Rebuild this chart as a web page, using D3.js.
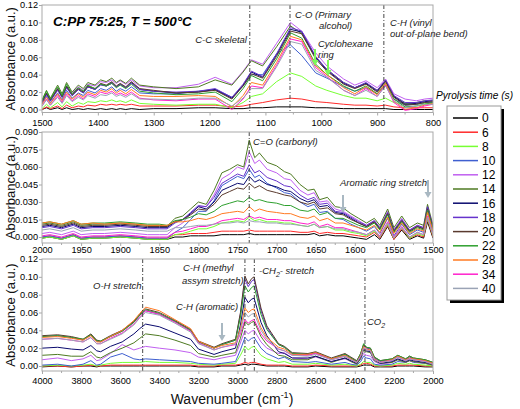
<!DOCTYPE html>
<html><head><meta charset="utf-8">
<script src="https://cdn.jsdelivr.net/npm/d3@7"></script>
<style>body{margin:0;background:#fff} svg{display:block} text{font-family:"Liberation Sans",Arial,sans-serif}</style>
</head><body><svg id="c" width="520" height="409"></svg>
<script>
// ---------- DATA ----------
const seriesNames = ["0","6","8","10","12","14","16","18","20","22","28","34","40"];
const seriesColors = ["#000000","#ff2a2a","#77ff33","#3f5fd0","#c05ff0","#4e7a22","#0a0a6e","#6633cc","#5a3a2e","#2ea02e","#ff7a22","#ff22cc","#9aa3b5"];

// Panel 1: 1500-800 cm-1
const p1Wn = [1500,1492,1485,1472,1464,1456,1446,1435,1426,1418,1405,1395,1385,1375,1367,1360,1350,1340,
  1325,1300,1260,1220,1190,1160,1140, 1125,1105,1080,1055,1035,1010,990, 960,940,920,900,885,870,850,830,815,800];
const p1Abs = [
 [.000,.002,.000,.002,.000,.002,.000,.001,.000,.001,.000,.001,.000,.001,.000,.001,.000,.001, .000,.001,.001,.002,.002,.001,.001, .002,.002,.003,.003,.003,.002,.002, .001,.001,.001,.001,.001,.000,.000,.000,.000,.000],
 [.000,.003,.001,.004,.001,.005,.002,.004,.003,.005,.004,.006,.005,.006,.005,.006,.005,.006, .004,.004,.004,.005,.005,.003,.004, .006,.008,.011,.013,.012,.009,.008, .006,.005,.005,.004,.005,.003,.002,.002,.002,.002],
 [.001,.006,.002,.008,.003,.009,.004,.008,.006,.009,.008,.010,.009,.011,.009,.010,.008,.011, .007,.006,.005,.006,.006,.002,.008, .015,.018,.032,.042,.038,.027,.022, .016,.013,.013,.010,.013,.008,.006,.006,.007,.007],
 [.007,.015,.008,.019,.011,.022,.013,.019,.016,.022,.019,.024,.022,.026,.021,.024,.021,.026, .019,.018,.018,.021,.023,.014,.027, .040,.040,.064,.074,.062,.042,.036, .026,.021,.025,.018,.028,.012,.005,.006,.008,.008],
 [.010,.018,.012,.024,.016,.027,.019,.026,.022,.029,.027,.032,.031,.034,.030,.033,.029,.034, .027,.025,.025,.029,.037,.029,.044, .057,.052,.076,.100,.090,.065,.050, .035,.028,.033,.025,.035,.018,.012,.010,.012,.013],
 [.011,.022,.013,.028,.018,.031,.020,.028,.024,.031,.028,.034,.032,.036,.031,.034,.030,.036, .028,.026,.024,.026,.034,.028,.043, .056,.050,.072,.096,.087,.060,.046, .031,.025,.030,.022,.033,.015,.007,.008,.010,.010],
 [.008,.018,.010,.023,.014,.026,.016,.023,.019,.026,.023,.029,.027,.031,.026,.029,.025,.031, .023,.021,.019,.020,.023,.013,.028, .043,.037,.063,.092,.089,.060,.045, .030,.025,.030,.021,.033,.015,.006,.007,.009,.010],
 [.008,.017,.010,.022,.014,.025,.016,.023,.019,.026,.023,.028,.027,.030,.026,.029,.025,.030, .023,.021,.020,.021,.024,.014,.029, .044,.038,.064,.094,.090,.061,.046, .031,.025,.031,.022,.034,.016,.008,.008,.010,.011],
 [.009,.019,.011,.024,.015,.027,.017,.024,.020,.027,.024,.030,.028,.032,.027,.030,.026,.032, .024,.022,.019,.020,.022,.012,.027, .041,.036,.061,.090,.087,.058,.044, .029,.024,.029,.020,.032,.014,.005,.006,.008,.009],
 [.010,.021,.012,.026,.016,.029,.018,.025,.021,.028,.024,.029,.027,.030,.025,.028,.024,.029, .021,.019,.017,.018,.020,.009,.024, .039,.033,.058,.088,.082,.052,.040, .027,.021,.027,.018,.030,.012,.003,.004,.006,.008],
 [.006,.014,.007,.018,.010,.020,.012,.018,.014,.020,.017,.022,.020,.024,.019,.022,.018,.023, .016,.015,.015,.016,.015,.003,.016, .031,.028,.054,.084,.080,.050,.040, .025,.018,.026,.017,.030,.010,.000,.002,.005,.007],
 [.004,.012,.005,.016,.008,.018,.010,.016,.012,.018,.015,.020,.018,.021,.017,.019,.016,.020, .013,.011,.010,.012,.012,.000,.012, .027,.025,.051,.081,.078,.048,.038, .022,.016,.024,.015,.028,.008,-.001,.001,.004,.006],
 [.004,.011,.005,.014,.007,.016,.009,.014,.011,.016,.013,.017,.016,.019,.015,.017,.014,.018, .012,.012,.011,.013,.013,.004,.013, .024,.024,.049,.078,.075,.045,.037, .022,.016,.022,.015,.027,.010,.002,.004,.006,.006]
];
const p1XTicks = [1500,1400,1300,1200,1100,1000,900,800];
const p1YTicks = [0,0.02,0.04,0.06,0.08,0.10,0.12];
const p1Marks = [1128,1056,888];

// Panel 2: 2000-1500 cm-1
const p2Wn = [2000,1990,1975,1960,1950,1935,1920,1900,1880,1865,1850, 1840,1830,1820,1810,1800,1790,1780,1770,1760,
  1750,1742,1735,1728,1722,1712,1700, 1690,1682,1670,1660,1652,1645,1635,1625,1615,1605,1595,
  1585,1575,1568,1558,1550,1540,1530,1520,1512,1507,1500];
const p2Abs = [
 [-.001,.000,-.002,.001,-.002,-.001,-.001,.000,-.001,-.002,-.002, -.002,.000,.000,.001,.001,.001,.001,.002,.002, .002,.002,.003,.002,.002,.002,.002, .002,.002,.002,.002,.003,.001,.002,.001,.001,.000,-.001, -.002,.002,-.002,.009,-.002,.006,-.002,.001,-.001,.013,-.001],
 [.000,.001,-.001,.002,-.001,.000,.000,.001,.000,-.001,-.001, -.001,.002,.002,.003,.003,.003,.004,.005,.005, .005,.005,.006,.005,.005,.005,.005, .005,.005,.004,.004,.005,.003,.004,.003,.003,.002,.001, .000,.004,-.001,.010,-.002,.007,-.001,.002,.000,.015,.000],
 [-.001,.000,-.002,.001,-.002,-.001,-.001,.000,-.001,-.002,-.002, -.002,.002,.003,.005,.007,.007,.009,.012,.013, .014,.013,.017,.014,.015,.013,.013, .012,.012,.010,.009,.011,.008,.009,.006,.006,.004,.003, .001,.005,.000,.011,-.001,.008,-.001,.003,.001,.016,.001],
 [.000,.001,-.001,.002,-.001,.000,.000,.001,.000,-.001,-.001, -.001,.004,.008,.015,.022,.022,.031,.044,.048, .052,.050,.058,.051,.053,.046,.042, .038,.037,.030,.026,.028,.021,.022,.016,.015,.011,.008, .005,.009,.003,.016,.001,.011,.002,.006,.004,.022,.004],
 [.003,.004,.002,.005,.002,.003,.003,.004,.003,.002,.002, .002,.008,.012,.020,.026,.026,.036,.050,.054, .060,.058,.073,.063,.066,.058,.055, .050,.049,.040,.036,.038,.030,.031,.024,.022,.018,.014, .010,.014,.008,.022,.006,.016,.006,.010,.008,.026,.008],
 [.011,.012,.010,.013,.010,.011,.011,.012,.011,.010,.010, .009,.016,.018,.024,.030,.028,.040,.055,.058, .062,.060,.083,.068,.072,.064,.061, .056,.054,.045,.040,.041,.032,.034,.026,.025,.020,.016, .012,.016,.010,.024,.008,.018,.008,.012,.010,.028,.010],
 [.009,.010,.008,.011,.008,.009,.009,.010,.009,.008,.008, .008,.013,.015,.020,.026,.024,.030,.040,.043, .046,.045,.052,.047,.049,.045,.043, .040,.039,.033,.030,.032,.026,.027,.021,.020,.016,.012, .009,.013,.007,.020,.005,.014,.005,.009,.007,.025,.007],
 [.008,.009,.007,.010,.007,.008,.008,.009,.008,.007,.007, .007,.012,.015,.021,.027,.026,.034,.046,.050, .054,.052,.062,.055,.057,.051,.048, .044,.043,.036,.032,.034,.028,.029,.022,.021,.017,.013, .010,.014,.008,.021,.006,.015,.006,.010,.008,.026,.008],
 [.010,.011,.009,.012,.009,.010,.010,.011,.010,.009,.009, .009,.013,.015,.019,.024,.023,.028,.036,.039, .042,.041,.046,.042,.044,.040,.038, .036,.035,.030,.028,.030,.024,.025,.020,.019,.015,.012, .009,.013,.007,.020,.005,.014,.005,.009,.007,.024,.007],
 [.012,.013,.011,.014,.011,.012,.012,.013,.012,.011,.011, .010,.014,.015,.017,.020,.019,.022,.027,.029, .031,.030,.034,.031,.032,.030,.029, .027,.027,.023,.022,.024,.019,.021,.016,.016,.013,.010, .008,.012,.006,.019,.004,.013,.004,.008,.006,.023,.006],
 [.012,.013,.011,.014,.011,.012,.011,.012,.011,.010,.010, .010,.013,.013,.014,.016,.015,.017,.020,.021, .022,.021,.026,.022,.024,.022,.021, .020,.020,.017,.016,.018,.014,.016,.012,.012,.010,.008, .006,.010,.004,.017,.003,.012,.003,.007,.005,.021,.005],
 [.001,.002,.000,.003,.000,.001,.001,.002,.001,.000,.000, .000,.004,.005,.007,.009,.009,.011,.014,.015, .016,.015,.018,.016,.017,.015,.015, .014,.014,.012,.011,.013,.009,.011,.008,.008,.006,.004, .002,.006,.001,.013,.000,.009,.000,.004,.002,.018,.002],
 [.006,.007,.005,.008,.005,.006,.006,.007,.006,.005,.005, .005,.008,.008,.009,.010,.010,.011,.012,.012, .013,.012,.014,.013,.013,.012,.012, .011,.011,.010,.009,.011,.008,.009,.007,.007,.005,.004, .002,.006,.000,.012,-.001,.008,.000,.004,.002,.017,.002]
];
const p2XTicks = [2000,1950,1900,1850,1800,1750,1700,1650,1600,1550,1500];
const p2YTicks = [0,0.015,0.030,0.045,0.060,0.075,0.090];
const p2Marks = [1735];

// Panel 3: 4000-2000 cm-1
const p3Wn = [4000,3920,3850,3790,3750,3720,3700,3650, 3590,3530,3500,3470,3400,3320,3240,3200,3120,3080,
  3010,2985,2962,2945,2928,2915,2880,2850, 2790,2760,2720,2640,2600,2520,2450,2420,2390,
  2370,2355,2340,2320,2300,2270,2210,2180,2140,2120,2100,2040,2000];
const p3Abs = [
 [-.001,.000,-.001,.000,.000,-.001,.000,.000, .000,.000,.000,.000,.000,.000,.000,-.001,-.001,.000, .000,.001,.002,.001,.002,.002,.001,.000, .000,.000,-.001,-.001,.000,-.001,-.001,-.001,-.001, .000,.001,.001,.001,-.001,-.001,-.001,.000,.000,.000,.000,-.001,-.001],
 [.000,.000,-.001,.000,.001,.000,.000,.001, .001,.001,.001,.001,.001,.001,.001,.000,.000,.001, .001,.002,.004,.003,.004,.004,.002,.001, .001,.001,.000,.000,.001,.000,.000,.000,.000, .001,.003,.003,.002,.000,.000,.000,.001,.001,.001,.001,.000,.000],
 [.000,.001,.000,.001,.002,.000,.001,.003, .004,.004,.004,.005,.004,.004,.003,.002,.001,.002, .003,.012,.022,.018,.021,.022,.012,.008, .004,.005,.002,.002,.003,.001,.002,.001,.000, .002,.005,.004,.004,.001,.000,.001,.003,.002,.003,.002,.001,.000],
 [.001,.002,.000,.002,.006,.001,.002,.010, .014,.008,.007,.008,.007,.006,.005,.003,.002,.003, .005,.018,.032,.028,.031,.032,.020,.014, .008,.010,.005,.004,.005,.002,.004,.002,.001, .005,.011,.009,.008,.002,.001,.002,.005,.004,.006,.004,.003,.001],
 [.007,.009,.006,.008,.012,.006,.007,.014, .024,.018,.020,.022,.020,.018,.015,.010,.007,.009, .012,.026,.040,.036,.039,.040,.027,.020, .014,.015,.009,.008,.010,.005,.008,.005,.003, .008,.014,.012,.011,.005,.002,.004,.007,.004,.006,.005,.003,.001],
 [.012,.013,.011,.011,.016,.010,.009,.015, .020,.026,.031,.036,.034,.029,.023,.014,.010,.012, .015,.031,.050,.046,.049,.050,.033,.024, .012,.011,.007,.007,.011,.004,.009,.005,.002, .008,.018,.016,.015,.006,.003,.004,.007,.004,.006,.005,.003,.001],
 [.020,.021,.019,.018,.023,.017,.016,.022, .027,.036,.042,.047,.044,.037,.030,.019,.013,.016, .020,.046,.077,.071,.075,.076,.049,.034, .016,.014,.009,.009,.011,.005,.009,.006,.003, .010,.020,.017,.016,.007,.003,.005,.008,.005,.007,.006,.004,.002],
 [.033,.034,.032,.029,.035,.028,.027,.033, .039,.049,.057,.062,.058,.050,.040,.027,.020,.024, .029,.058,.097,.089,.095,.097,.062,.043, .024,.021,.014,.013,.015,.008,.013,.009,.005, .013,.023,.020,.019,.009,.005,.007,.011,.007,.010,.008,.006,.003],
 [.034,.035,.033,.030,.036,.029,.028,.034, .040,.050,.058,.064,.060,.051,.041,.028,.021,.025, .030,.060,.101,.092,.098,.100,.065,.045, .025,.022,.015,.014,.016,.009,.014,.010,.006, .014,.024,.021,.020,.010,.006,.008,.012,.008,.011,.009,.007,.004],
 [.033,.034,.032,.030,.035,.028,.028,.033, .039,.049,.057,.063,.059,.050,.040,.027,.020,.024, .029,.055,.090,.083,.088,.090,.058,.041, .024,.021,.014,.013,.015,.008,.013,.009,.005, .014,.025,.021,.020,.010,.006,.008,.012,.008,.011,.009,.007,.004],
 [.032,.033,.031,.029,.034,.027,.027,.033, .040,.051,.059,.066,.062,.052,.042,.028,.020,.023, .026,.042,.065,.060,.063,.064,.043,.032, .021,.019,.013,.013,.015,.008,.012,.008,.004, .012,.022,.019,.018,.008,.004,.007,.011,.007,.009,.008,.006,.003],
 [.030,.031,.029,.027,.032,.025,.025,.031, .037,.047,.055,.062,.058,.049,.039,.026,.018,.021, .024,.036,.052,.048,.051,.052,.036,.028, .019,.017,.012,.012,.014,.007,.011,.007,.004, .011,.020,.018,.017,.007,.004,.006,.010,.006,.008,.007,.005,.002],
 [.030,.031,.029,.027,.032,.025,.025,.030, .036,.046,.054,.060,.057,.048,.038,.025,.018,.021, .025,.039,.060,.055,.058,.059,.040,.030, .019,.017,.012,.011,.013,.007,.011,.007,.004, .011,.020,.018,.017,.007,.004,.006,.010,.006,.008,.007,.005,.002]
];
const p3XTicks = [4000,3800,3600,3400,3200,3000,2800,2600,2400,2200,2000];
const p3YTicks = [0,0.02,0.04,0.06,0.08,0.10,0.12];
const p3Marks = [3485,2962,2914,2348];

// ---------- DRAW ----------
const svg = d3.select("#c");
const L = 42, R = 433;
const axisGray = "#a9a9a9";

const panels = [
  {wn:p1Wn, abs:p1Abs, xd:[1500,800], top:5, zeroY:109.5, bottom:112.5, ymax:0.12, yt:p1YTicks, fmt:d3.format(".2f"), xt:p1XTicks, minorStep:50, marks:p1Marks, labY:5},
  {wn:p2Wn, abs:p2Abs, xd:[2000,1500], top:132, zeroY:237, bottom:243, ymax:0.09, yt:p2YTicks, fmt:d3.format(".3f"), xt:p2XTicks, minorStep:25, marks:p2Marks, labY:2},
  {wn:p3Wn, abs:p3Abs, xd:[4000,2000], top:259, zeroY:366, bottom:371, ymax:0.12, yt:p3YTicks, fmt:d3.format(".2f"), xt:p3XTicks, minorStep:100, marks:p3Marks, labY:4.5}
];

panels.forEach((p, pi) => {
  const x = d3.scaleLinear().domain(p.xd).range([L, R]);
  const y = d3.scaleLinear().domain([0, p.ymax]).range([p.zeroY, p.top]);
  const g = svg.append("g");
  const clipId = "clip" + pi;
  svg.append("clipPath").attr("id", clipId).append("rect")
    .attr("x", L).attr("y", p.top).attr("width", R - L).attr("height", p.bottom - p.top);

  // lines
  const line = d3.line().x((d,i) => x(p.wn[i])).y(d => y(d));
  const lg = g.append("g").attr("clip-path", `url(#${clipId})`);
  p.abs.forEach((vals, si) => {
    lg.append("path").attr("d", line(vals)).attr("fill","none")
      .attr("stroke", seriesColors[si]).attr("stroke-width", 1).attr("stroke-linejoin","round");
  });

  // vertical marker lines
  p.marks.forEach(m => {
    g.append("line").attr("x1", x(m)).attr("x2", x(m)).attr("y1", p.top).attr("y2", p.bottom)
      .attr("stroke","#333").attr("stroke-width",0.9).attr("stroke-dasharray","4,2,1,2");
  });

  // frame
  g.append("rect").attr("x", L).attr("y", p.top).attr("width", R - L).attr("height", p.bottom - p.top)
    .attr("fill","none").attr("stroke", axisGray).attr("stroke-width", 1);

  // x axis
  const xa = g.append("g").attr("transform", `translate(0,${p.bottom})`)
    .call(d3.axisBottom(x).tickValues(p.xt).tickSize(3).tickSizeOuter(0).tickFormat(d3.format("d")));
  xa.select(".domain").remove();
  xa.selectAll("line").attr("stroke", axisGray);
  xa.selectAll("text").attr("font-size", 9.2).attr("fill","#000").attr("dy","0.9em").attr("y", p.labY);
  const minors = d3.range(Math.min(...p.xd), Math.max(...p.xd) + 1, p.minorStep).filter(v => !p.xt.includes(v));
  g.selectAll(null).data(minors).enter().append("line")
    .attr("x1", d => x(d)).attr("x2", d => x(d)).attr("y1", p.bottom).attr("y2", p.bottom + 2)
    .attr("stroke", axisGray);

  // y axis
  const ya = g.append("g").attr("transform", `translate(${L},0)`)
    .call(d3.axisLeft(y).tickValues(p.yt).tickSize(3).tickSizeOuter(0).tickFormat(p.fmt));
  ya.select(".domain").remove();
  ya.selectAll("line").attr("stroke", axisGray);
  ya.selectAll("text").attr("font-size", 9.2).attr("fill","#000").attr("x", -4);

  // y title
  svg.append("text").attr("transform", `translate(15,${(p.top + p.bottom)/2}) rotate(-90)`)
    .attr("text-anchor","middle").attr("font-size", 13).attr("fill","#111").text("Absorbance (a.u.)");
});

// x title
const xt = svg.append("text").attr("x", 232).attr("y", 404).attr("text-anchor","middle").attr("font-size", 14).attr("fill","#111");
xt.append("tspan").text("Wavenumber (cm");
xt.append("tspan").attr("font-size", 9).attr("dy", -6).text("-1");
xt.append("tspan").attr("dy", 6).text(")");

// title
svg.append("text").attr("x", 53).attr("y", 26).attr("font-size", 13.5).attr("font-weight","bold")
  .attr("font-style","italic").attr("fill","#000").text("C:PP 75:25, T = 500\u00B0C");

// annotations
function ann(xp, yp, txt, anchor) {
  return svg.append("text").attr("x", xp).attr("y", yp).attr("font-size", 9.5).attr("font-style","italic")
    .attr("fill","#222").attr("text-anchor", anchor || "start").text(txt);
}
ann(247, 43, "C-C skeletal", "end");
ann(295, 18, "C-O (Primary");
ann(319, 29, "alcohol)");
ann(318, 47, "Cyclohexane");
ann(318, 58, "ring");
ann(390, 26, "C-H (vinyl");
ann(390, 37, "out-of-plane bend)");
ann(253, 145, "C=O (carbonyl)");
ann(340, 186, "Aromatic ring stretch");
ann(93, 289, "O-H stretch");
ann(183, 271, "C-H (methyl");
ann(182, 284, "assym stretch)");
ann(176, 310, "C-H (aromatic)");
const ch2 = ann(259, 274, "-CH");
ch2.append("tspan").attr("font-size", 7).attr("dy", 2.5).text("2");
ch2.append("tspan").attr("dy", -2.5).text("- stretch");
const co2 = ann(367, 325, "CO");
co2.append("tspan").attr("font-size", 7).attr("dy", 2.5).text("2");

// arrows
function arrow(xp, y1, y2, col) {
  svg.append("line").attr("x1", xp).attr("x2", xp).attr("y1", y1).attr("y2", y2 - 5)
    .attr("stroke", col).attr("stroke-width", 2);
  svg.append("path").attr("d", `M${xp-3.5},${y2-6}L${xp+3.5},${y2-6}L${xp},${y2}Z`).attr("fill", col);
}
arrow(315, 49, 66, "#7cf85a");
arrow(328, 60, 76, "#7cf85a");
arrow(343, 195, 213, "#a9b8c2");
arrow(428, 180, 198, "#a9b8c2");
arrow(222, 323, 341, "#a9b8c2");

// legend
svg.append("text").attr("x", 436).attr("y", 99).attr("font-size", 10.5).attr("font-style","italic")
  .attr("fill","#000").attr("textLength", 77).attr("lengthAdjust","spacingAndGlyphs").text("Pyrolysis time (s)");
svg.append("rect").attr("x", 450).attr("y", 109).attr("width", 54).attr("height", 194).attr("fill","#000");
svg.append("rect").attr("x", 447).attr("y", 106).attr("width", 54).attr("height", 194)
  .attr("fill","#fff").attr("stroke","#999").attr("stroke-width",1);
const leg = svg.append("g");
seriesNames.forEach((nm, i) => {
  const yy = 118 + i * 14.2;
  leg.append("line").attr("x1", 453).attr("x2", 478).attr("y1", yy).attr("y2", yy)
    .attr("stroke", seriesColors[i]).attr("stroke-width", 1.5);
  leg.append("text").attr("x", 482).attr("y", yy + 4.3).attr("font-size", 12).attr("fill","#000").text(nm);
});
</script></body></html>
